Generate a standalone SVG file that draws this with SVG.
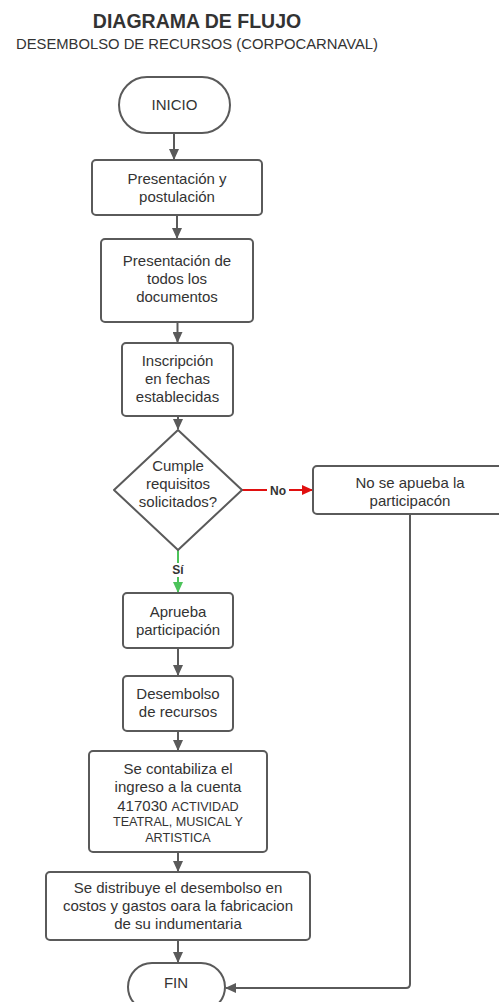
<svg xmlns="http://www.w3.org/2000/svg" width="499" height="1002" viewBox="0 0 499 1002">
<style>
.n{fill:#fff;stroke:#5a5a5a;stroke-width:2}
.t{font-family:"Liberation Sans",Arial,sans-serif;font-size:15px;fill:#333;text-anchor:middle}
.s{font-size:12.6px}
.c{fill:none;stroke:#5a5a5a;stroke-width:2}
.lb{font-family:"Liberation Sans",Arial,sans-serif;font-size:12px;font-weight:bold;fill:#333;text-anchor:middle}
</style>
<defs>
<marker id="ag" markerUnits="userSpaceOnUse" markerWidth="11" markerHeight="10" refX="10" refY="5" orient="auto"><path d="M0,0 L11,5 L0,10 z" fill="#5a5a5a"/></marker>
<marker id="ar" markerUnits="userSpaceOnUse" markerWidth="11" markerHeight="10" refX="10" refY="5" orient="auto"><path d="M0,0 L11,5 L0,10 z" fill="#e01010"/></marker>
<marker id="an" markerUnits="userSpaceOnUse" markerWidth="11" markerHeight="10" refX="10" refY="5" orient="auto"><path d="M0,0 L11,5 L0,10 z" fill="#4cc35a"/></marker>
</defs>
<rect width="499" height="1002" fill="#fff"/>
<g id="title">
<text x="197" y="28" font-family="'Liberation Sans',Arial,sans-serif" font-size="19.5" font-weight="bold" fill="#333" text-anchor="middle">DIAGRAMA DE FLUJO</text>
<text x="197" y="49" font-family="'Liberation Sans',Arial,sans-serif" font-size="14.8" fill="#333" text-anchor="middle">DESEMBOLSO DE RECURSOS (CORPOCARNAVAL)</text>
</g>
<g id="connectors">
<line class="c" x1="174" y1="133" x2="174" y2="159" marker-end="url(#ag)"/>
<line class="c" x1="177" y1="215" x2="177" y2="238" marker-end="url(#ag)"/>
<line class="c" x1="177.5" y1="322" x2="177.5" y2="342" marker-end="url(#ag)"/>
<line class="c" x1="178" y1="416" x2="178" y2="429" marker-end="url(#ag)"/>
<line x1="242" y1="490" x2="312" y2="490" stroke="#e01010" stroke-width="2" marker-end="url(#ar)"/>
<line x1="178" y1="550" x2="178" y2="592" stroke="#4cc35a" stroke-width="2" marker-end="url(#an)"/>
<line class="c" x1="178" y1="648" x2="178" y2="675" marker-end="url(#ag)"/>
<line class="c" x1="178" y1="731" x2="178" y2="750" marker-end="url(#ag)"/>
<line class="c" x1="178" y1="852" x2="178" y2="871" marker-end="url(#ag)"/>
<line class="c" x1="178" y1="940" x2="178" y2="962" marker-end="url(#ag)"/>
<path class="c" d="M410,514 L410,984 Q410,988 406,988 L226,988" marker-end="url(#ag)"/>
<rect x="267" y="483" width="22" height="14" fill="#fff"/>
<text class="lb" x="278" y="494.5">No</text>
<rect x="170" y="563" width="16" height="14" fill="#fff"/>
<text class="lb" x="178" y="574">Sí</text>
</g>
<g id="inicio">
<rect class="n" x="119" y="77" width="111" height="56" rx="28"/>
<text class="t" x="174.5" y="110">INICIO</text>
</g>
<g id="presentacion">
<rect class="n" x="92" y="160" width="170" height="55" rx="4"/>
<text class="t" x="177" y="184">Presentación y</text>
<text class="t" x="177" y="202">postulación</text>
</g>
<g id="documentos">
<rect class="n" x="101" y="239" width="152" height="83" rx="4"/>
<text class="t" x="177" y="266">Presentación de</text>
<text class="t" x="177" y="284">todos los</text>
<text class="t" x="177" y="302">documentos</text>
</g>
<g id="inscripcion">
<rect class="n" x="122" y="343" width="111" height="73" rx="4"/>
<text class="t" x="177.5" y="366">Inscripción</text>
<text class="t" x="177.5" y="384">en fechas</text>
<text class="t" x="177.5" y="402">establecidas</text>
</g>
<g id="decision">
<path class="n" d="M178,430 L242,490 L178,550 L114,490 Z" stroke-linejoin="round"/>
<text class="t" x="178" y="471">Cumple</text>
<text class="t" x="178" y="489">requisitos</text>
<text class="t" x="178" y="507">solicitados?</text>
</g>
<g id="noaprueba">
<rect class="n" x="313" y="466" width="196" height="48" rx="4"/>
<text class="t" x="410" y="488">No se apueba la</text>
<text class="t" x="410" y="506">participacón</text>
</g>
<g id="aprueba">
<rect class="n" x="123" y="593" width="110" height="55" rx="4"/>
<text class="t" x="178" y="617">Aprueba</text>
<text class="t" x="178" y="635">participación</text>
</g>
<g id="desembolso">
<rect class="n" x="123" y="676" width="110" height="55" rx="4"/>
<text class="t" x="178" y="699">Desembolso</text>
<text class="t" x="178" y="717">de recursos</text>
</g>
<g id="contabiliza">
<rect class="n" x="89" y="751" width="178" height="101" rx="4"/>
<text class="t" x="178" y="774">Se contabiliza el</text>
<text class="t" x="178" y="792">ingreso a la cuenta</text>
<text class="t" x="178" y="811">417030 <tspan class="s">ACTIVIDAD</tspan></text>
<text class="t s" x="178" y="826">TEATRAL, MUSICAL Y</text>
<text class="t s" x="178" y="842">ARTISTICA</text>
</g>
<g id="distribuye">
<rect class="n" x="46" y="872" width="264" height="68" rx="4"/>
<text class="t" x="178" y="893">Se distribuye el desembolso en</text>
<text class="t" x="178" y="911">costos y gastos oara la fabricacion</text>
<text class="t" x="178" y="929">de su indumentaria</text>
</g>
<g id="fin">
<rect class="n" x="128" y="963" width="97" height="48" rx="24"/>
<text class="t" x="176" y="988">FIN</text>
</g>
</svg>
